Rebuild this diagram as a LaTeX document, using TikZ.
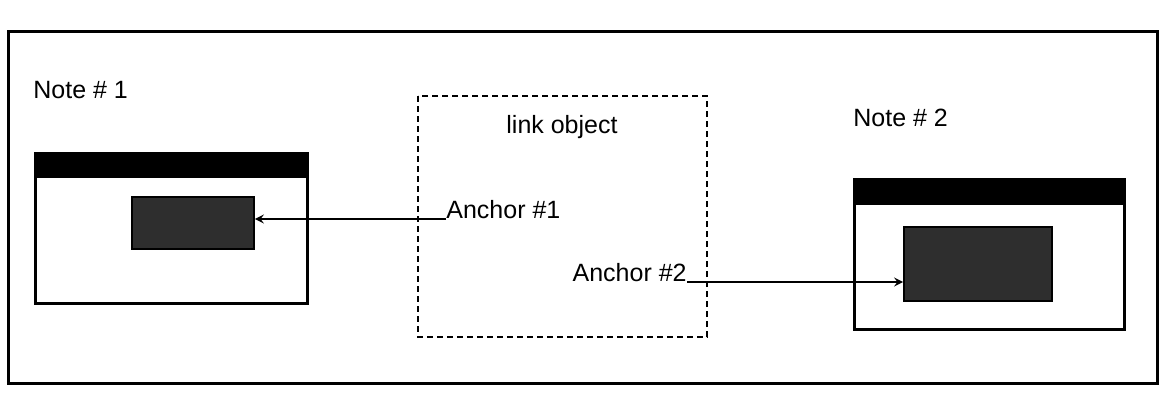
\documentclass[tikz,border=0pt]{standalone}
\usepackage{fontspec}
\setmainfont{Liberation Sans}
\usepackage{tikz}
\usetikzlibrary{calc}

\begin{document}
\begin{tikzpicture}[x=0.5pt, y=-0.5pt,
    frame/.style={draw, line width=1.5pt},
    window/.style={draw, line width=1.5pt, inner sep=0pt},
    target/.style={draw, fill=black!82, line width=0.8pt, inner sep=0pt},
    label/.style={inner sep=0pt, font=\fontsize{12.5}{15}\selectfont},
    link/.style={-stealth, line width=1pt},
    linkbox/.style={draw, line width=1.2pt, dash pattern=on 3pt off 2pt}]
		\useasboundingbox (0,0) rectangle (1164,392);
		% outer frame
		\draw[frame] (8,31) rectangle (1157,383);
		% first note
		\node[label, anchor=west] (note1) at (33,90) {Note \# 1};
		\node[window, minimum width=136pt, minimum height=75pt, anchor=north west] (win1) at (34,152) {};
		\fill (win1.north west) rectangle ($(win1.north east)+(0,26)$);
		\node[target, minimum width=61pt, minimum height=26pt] (target1) at (193,223) {};
		% link object
		\draw[linkbox] (418,96) rectangle (707,337);
		\node[label] (linkname) at (562,127) {link object};
		\node[label, anchor=south west] (anchor1) at (446,219) {Anchor \#1};
		\node[label, anchor=south east] (anchor2) at (687,282) {Anchor \#2};
		% second note
		\node[label, anchor=west] (note2) at (853,118) {Note \# 2};
		\node[window, minimum width=135pt, minimum height=75pt, anchor=north west] (win2) at (853,178) {};
		\fill (win2.north west) rectangle ($(win2.north east)+(0,27)$);
		\node[target, minimum width=74pt, minimum height=37pt] (target2) at (978,264) {};
		% the two links
		\draw[link] (anchor1.south west) -- (anchor1.south west -| target1.east);
		\draw[link] (anchor2.south east) -- (anchor2.south east -| target2.west);
	\end{tikzpicture}
\end{document}
